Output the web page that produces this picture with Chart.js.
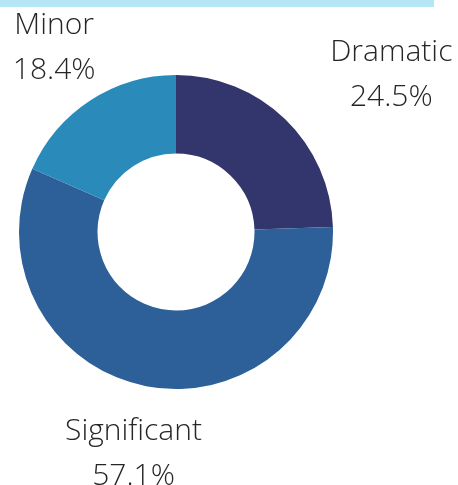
<!DOCTYPE html>
<html>
<head>
<meta charset="utf-8">
<script src="https://cdn.jsdelivr.net/npm/chart.js@4/dist/chart.umd.min.js"></script>
<style>
  html, body { margin: 0; padding: 0; background: #ffffff; }
  #wrap { position: relative; width: 458px; height: 485px; }
  #topbar { position: absolute; left: 0; top: 0; width: 434px; height: 7px; background: #b4e6f5; }
  canvas { position: absolute; left: 0; top: 0; }
</style>
</head>
<body>
<div id="wrap">
  <canvas id="c" width="458" height="485"></canvas>
  <div id="topbar"></div>
</div>
<script>
const categories = ["Dramatic", "Significant", "Minor"];
const shares = [24.5, 57.1, 18.4];
const valueLabels = ["24.5%", "57.1%", "18.4%"];
const sliceColors = ["#33366c", "#2d5f99", "#2a8bbb"];

const outLabels = {
  id: "outLabels",
  afterDatasetsDraw(chart) {
    const ctx = chart.ctx;
    const meta = chart.getDatasetMeta(0);
    ctx.save();
    ctx.font = "300 30px 'Open Sans'";
    ctx.fillStyle = "#262626";
    ctx.textBaseline = "middle";
    ctx.textAlign = "center";
    const lineH = 45;
    meta.data.forEach((arc, i) => {
      const p = arc.getProps(["x", "y", "startAngle", "endAngle", "outerRadius"], true);
      const mid = (p.startAngle + p.endAngle) / 2;
      const d = p.outerRadius + 66;
      let ax = p.x + Math.cos(mid) * d;
      const ay = p.y + Math.sin(mid) * d + 3;
      const lines = [categories[i], valueLabels[i]];
      const w = Math.max(...lines.map(t => ctx.measureText(t).width));
      if (Math.cos(mid) > 0.6) ax = ax + w / 2 - 1;
      lines.forEach((t, k) => {
        ctx.fillText(t, ax, ay + (k - 0.5) * lineH);
      });
    });
    ctx.restore();
  }
};

new Chart(document.getElementById("c"), {
  type: "doughnut",
  data: {
    labels: categories,
    datasets: [{
      data: shares,
      backgroundColor: sliceColors,
      borderWidth: 0
    }]
  },
  options: {
    responsive: false,
    animation: false,
    cutout: "50%",
    layout: { padding: { left: 19, right: 125, top: 75, bottom: 96 } },
    plugins: {
      legend: { display: false },
      tooltip: { enabled: false }
    }
  },
  plugins: [outLabels]
});
</script>
</body>
</html>
